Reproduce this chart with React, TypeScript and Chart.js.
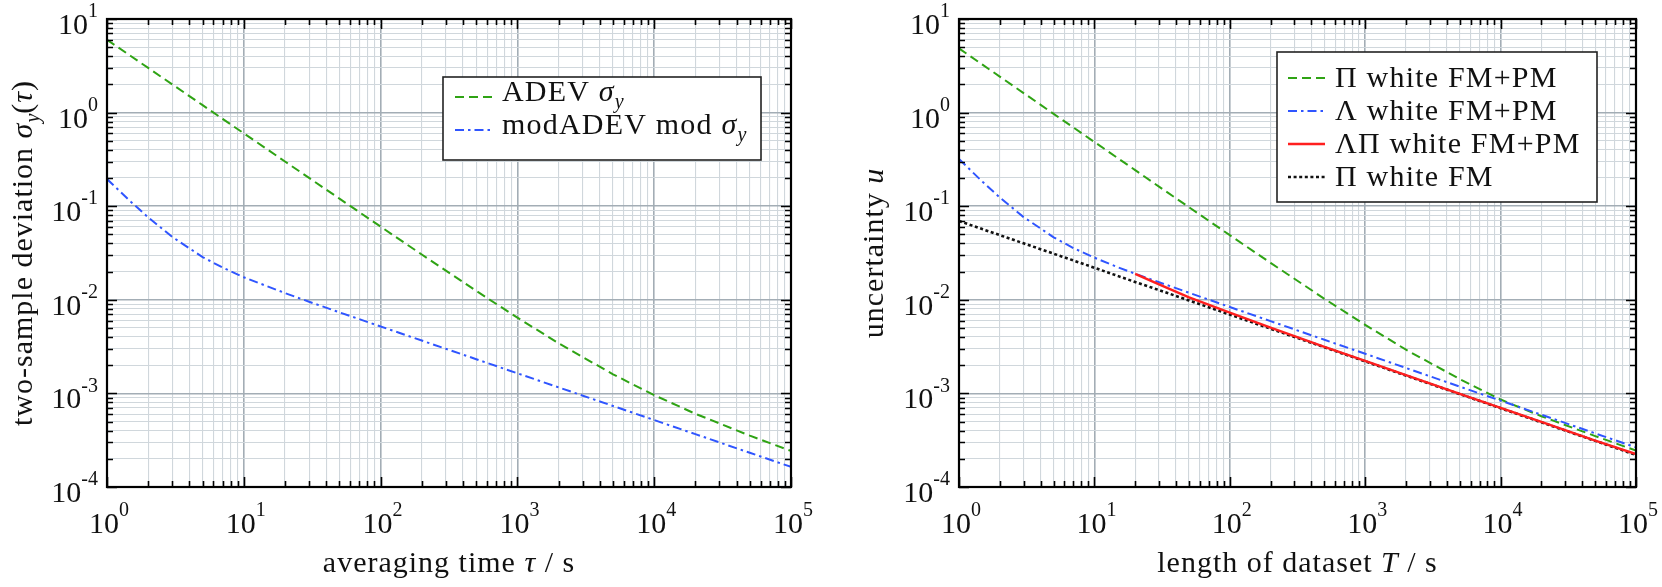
import React, { useEffect, useRef } from "react";
import { Chart, registerables } from "chart.js";

Chart.register(...registerables);

// ---------------- data ----------------
// left panel: averaging time tau / s
const tau = [1, 1.5, 2, 3, 5, 7, 10, 20, 30, 50, 100, 200, 500, 1000, 2000, 5000, 10000, 20000, 50000, 100000];
const adev = [6.0, 4.0, 3.0, 2.0, 1.2, 0.858, 0.6005, 0.3005, 0.2005, 0.1205, 0.0605, 0.03046, 0.01245, 0.00645, 0.00343, 0.0016, 9.57e-4, 6.06e-4, 3.54e-4, 2.43e-4];
const modAdev = [0.195, 0.111, 0.0759, 0.047, 0.0286, 0.0221, 0.0174, 0.0118, 0.00954, 0.00735, 0.00519, 0.00367, 0.00232, 0.00164, 0.00116, 7.34e-4, 5.19e-4, 3.67e-4, 2.32e-4, 1.64e-4];

// right panel: length of dataset T / s
const lengthT = [1, 1.5, 2, 3, 5, 7, 10, 15, 20, 30, 50, 100, 200, 500, 1000, 2000, 5000, 10000, 20000, 50000, 100000];
const piWhiteFmPm = [4.85, 3.233, 2.425, 1.617, 0.97, 0.693, 0.4855, 0.3235, 0.243, 0.1618, 0.0975, 0.049, 0.0248, 0.01025, 0.0054, 0.00293, 0.00142, 8.6e-4, 5.7e-4, 3.5e-4, 2.45e-4];
const lambdaWhiteFmPm = [0.319, 0.181, 0.124, 0.0765, 0.0465, 0.0357, 0.0282, 0.0222, 0.019, 0.0154, 0.0119, 0.00837, 0.00592, 0.00374, 0.00265, 0.00187, 0.00118, 8.37e-4, 5.92e-4, 3.74e-4, 2.65e-4];
const lambdaPiWhiteFmPm = [null, null, null, null, null, null, null, null, 0.0189, 0.0146, 0.0106, 0.0073, 0.00505, 0.00315, 0.00222, 0.00157, 9.9e-4, 7.0e-4, 4.95e-4, 3.13e-4, 2.25e-4];
const piWhiteFm = [0.0695, 0.0567, 0.0491, 0.0401, 0.0311, 0.0263, 0.022, 0.0179, 0.0155, 0.0127, 0.00983, 0.00695, 0.00491, 0.00311, 0.0022, 0.00155, 9.83e-4, 6.95e-4, 4.91e-4, 3.11e-4, 2.2e-4];

// axis decades (tick labels are 10^exponent)
const xDecades = [0, 1, 2, 3, 4, 5];
const yDecades = [-4, -3, -2, -1, 0, 1];

// ---------------- styling ----------------
const FAMILY = '"Liberation Serif"';
const GREEN = "#2fa314";
const BLUE = "#2f55ff";
const RED = "#ff1f1f";
const BLACK = "#111111";
const GRID_MAJOR = "#a3adb5";
const GRID_MINOR = "#d0d7dc";

type Seg = { t: string; it?: boolean; sub?: boolean; sup?: boolean };

function gridValues(decades: number[]): number[] {
  const out: number[] = [];
  for (let i = 0; i < decades.length - 1; i++) {
    const base = Math.pow(10, decades[i]);
    for (let m = 1; m <= 9; m++) out.push(m * base);
  }
  out.push(Math.pow(10, decades[decades.length - 1]));
  return out;
}
function isDecade(v: number): boolean {
  const l = Math.log10(v);
  return Math.abs(l - Math.round(l)) < 1e-9;
}
function segFont(s: Seg, size: number) {
  const sz = Math.round(s.sub || s.sup ? size * 0.68 : size);
  return `${s.it ? "italic " : ""}${sz}px ${FAMILY}`;
}
function setSpacing(ctx: any, sp: number) {
  if ("letterSpacing" in ctx) ctx.letterSpacing = `${sp}px`;
}
function richWidth(ctx: CanvasRenderingContext2D, segs: Seg[], size: number, sp = 0) {
  let w = 0;
  for (const s of segs) {
    ctx.font = segFont(s, size);
    setSpacing(ctx, s.sub || s.sup ? 0 : sp);
    w += ctx.measureText(s.t).width;
  }
  setSpacing(ctx, 0);
  return w;
}
function drawRich(ctx: CanvasRenderingContext2D, segs: Seg[], x: number, y: number, size: number, sp = 0) {
  let cx = x;
  ctx.textAlign = "left";
  ctx.textBaseline = "alphabetic";
  for (const s of segs) {
    ctx.font = segFont(s, size);
    setSpacing(ctx, s.sub || s.sup ? 0 : sp);
    const dy = s.sub ? size * 0.24 : s.sup ? -size * 0.56 : 0;
    ctx.fillText(s.t, cx, y + dy);
    cx += ctx.measureText(s.t).width;
  }
  setSpacing(ctx, 0);
}
function powLabel(e: number): Seg[] {
  return [{ t: "10" }, { t: String(e), sup: true }];
}

type LegendItem = { segs: Seg[]; color: string; dash: number[]; width: number };
type PanelSpec = {
  xTitle: Seg[];
  yTitle: Seg[];
  yTitleBaselineX: number; // canvas coords
  legend: { x: number; y: number; w: number; h: number; lx0: number; lx1: number; tx: number; baselines: number[]; lineOffset: number; items: LegendItem[] };
};

const TICK_SIZE = 30;
const TITLE_SIZE = 30;
const LEGEND_SIZE = 30;

function decorPlugin(spec: PanelSpec) {
  return {
    id: "decor",
    afterDraw(chart: any) {
      const ctx: CanvasRenderingContext2D = chart.ctx;
      const { left, right, top, bottom } = chart.chartArea;
      const xs = chart.scales.x;
      const ys = chart.scales.y;
      ctx.save();
      // inward ticks on all four sides
      ctx.strokeStyle = "#000";
      ctx.lineWidth = 1.6;
      ctx.beginPath();
      for (const v of gridValues(xDecades)) {
        const p = Math.round(xs.getPixelForValue(v)) + 0.5;
        const len = isDecade(v) ? 10 : 6;
        ctx.moveTo(p, bottom);
        ctx.lineTo(p, bottom - len);
        ctx.moveTo(p, top);
        ctx.lineTo(p, top + len);
      }
      for (const v of gridValues(yDecades)) {
        const p = Math.round(ys.getPixelForValue(v)) + 0.5;
        const len = isDecade(v) ? 10 : 6;
        ctx.moveTo(left, p);
        ctx.lineTo(left + len, p);
        ctx.moveTo(right, p);
        ctx.lineTo(right - len, p);
      }
      ctx.stroke();
      // frame
      ctx.lineWidth = 2.2;
      ctx.strokeRect(left, top, right - left, bottom - top);

      // tick labels
      ctx.fillStyle = "#111";
      for (const e of xDecades) {
        const segs = powLabel(e);
        const w = richWidth(ctx, segs, TICK_SIZE);
        const p = xs.getPixelForValue(Math.pow(10, e));
        drawRich(ctx, segs, p - w / 2 + 2, bottom + 46, TICK_SIZE);
      }
      for (const e of yDecades) {
        const segs = powLabel(e);
        const w = richWidth(ctx, segs, TICK_SIZE);
        const p = ys.getPixelForValue(Math.pow(10, e));
        drawRich(ctx, segs, left - 9 - w, p + 15, TICK_SIZE);
      }

      // axis titles
      const xw = richWidth(ctx, spec.xTitle, TITLE_SIZE, 1);
      drawRich(ctx, spec.xTitle, (left + right) / 2 - xw / 2, bottom + 85, TITLE_SIZE, 1);
      const yw = richWidth(ctx, spec.yTitle, TITLE_SIZE, 1);
      ctx.save();
      ctx.translate(spec.yTitleBaselineX, (top + bottom) / 2);
      ctx.rotate(-Math.PI / 2);
      drawRich(ctx, spec.yTitle, -yw / 2, 0, TITLE_SIZE, 1);
      ctx.restore();

      // legend
      const L = spec.legend;
      ctx.fillStyle = "#fff";
      ctx.fillRect(L.x, L.y, L.w, L.h);
      ctx.strokeStyle = "#222";
      ctx.lineWidth = 1.6;
      ctx.strokeRect(L.x, L.y, L.w, L.h);
      L.items.forEach((it, i) => {
        const b = L.baselines[i];
        const ly = b - L.lineOffset;
        ctx.save();
        ctx.strokeStyle = it.color;
        ctx.lineWidth = it.width;
        ctx.setLineDash(it.dash);
        ctx.beginPath();
        ctx.moveTo(L.lx0, ly);
        ctx.lineTo(L.lx1, ly);
        ctx.stroke();
        ctx.restore();
        ctx.fillStyle = "#111";
        drawRich(ctx, it.segs, L.tx, b, LEGEND_SIZE, 1.2);
      });
      ctx.restore();
    },
  };
}

const DASH = [9, 5];
const DASHDOT = [9, 4, 2.5, 4];
const DOTTED = [3, 2.6];

function pts(xs: number[], ys: (number | null)[]) {
  const out: { x: number; y: number }[] = [];
  xs.forEach((x, i) => {
    const y = ys[i];
    if (y != null) out.push({ x, y });
  });
  return out;
}

function logAxis(decades: number[], isX: boolean) {
  const vals = gridValues(decades);
  return {
    type: "logarithmic" as const,
    min: Math.pow(10, decades[0]),
    max: Math.pow(10, decades[decades.length - 1]),
    afterBuildTicks: (scale: any) => {
      scale.ticks = vals.map((v) => ({ value: v, major: isDecade(v) }));
    },
    afterFit: (scale: any) => {
      if (isX) scale.height = 0;
      else scale.width = 0;
    },
    ticks: { display: false },
    title: { display: false },
    border: { display: false },
    grid: {
      drawTicks: false,
      color: (c: any) => (c.tick && isDecade(c.tick.value) ? GRID_MAJOR : GRID_MINOR),
      lineWidth: (c: any) => (c.tick && isDecade(c.tick.value) ? 1.6 : 1.1),
    },
  };
}

function lineDs(label: string, data: any[], color: string, dash: number[], width: number, order: number) {
  return {
    label,
    data,
    borderColor: color,
    backgroundColor: color,
    borderDash: dash,
    borderWidth: width,
    borderCapStyle: "butt" as const,
    pointRadius: 0,
    tension: 0,
    fill: false,
    order,
  };
}

function Panel(props: { left: number; padding: { left: number; right: number; top: number; bottom: number }; datasets: any[]; spec: PanelSpec }) {
  const ref = useRef<HTMLCanvasElement | null>(null);
  useEffect(() => {
    if (!ref.current) return;
    const chart = new Chart(ref.current, {
      type: "line",
      data: { datasets: props.datasets },
      options: {
        animation: false,
        responsive: true,
        maintainAspectRatio: false,
        layout: { padding: props.padding },
        plugins: { legend: { display: false }, tooltip: { enabled: false } },
        scales: { x: logAxis(xDecades, true), y: logAxis(yDecades, false) },
      } as any,
      plugins: [decorPlugin(props.spec)],
    });
    return () => chart.destroy();
  }, []);
  return (
    <div style={{ position: "absolute", left: props.left, top: 0, width: 831, height: 587 }}>
      <canvas ref={ref} />
    </div>
  );
}

export default function App() {
  const leftDatasets = [
    lineDs("ADEV", pts(tau, adev), GREEN, DASH, 2, 2),
    lineDs("modADEV", pts(tau, modAdev), BLUE, DASHDOT, 2, 1),
  ];
  const rightDatasets = [
    lineDs("Π white FM+PM", pts(lengthT, piWhiteFmPm), GREEN, DASH, 2, 3),
    lineDs("Λ white FM+PM", pts(lengthT, lambdaWhiteFmPm), BLUE, DASHDOT, 2, 2),
    lineDs("ΛΠ white FM+PM", pts(lengthT, lambdaPiWhiteFmPm), RED, [], 2.4, 1),
    lineDs("Π white FM", pts(lengthT, piWhiteFm), BLACK, DOTTED, 2.6, 4),
  ];
  const leftSpec: PanelSpec = {
    xTitle: [{ t: "averaging time " }, { t: "τ", it: true }, { t: " / s" }],
    yTitle: [{ t: "two-sample deviation " }, { t: "σ", it: true }, { t: "y", it: true, sub: true }, { t: "(" }, { t: "τ", it: true }, { t: ")" }],
    yTitleBaselineX: 32,
    legend: {
      x: 443, y: 77, w: 318, h: 83, lx0: 455, lx1: 492, tx: 502, baselines: [101, 134], lineOffset: 4,
      items: [
        { segs: [{ t: "ADEV " }, { t: "σ", it: true }, { t: "y", it: true, sub: true }], color: GREEN, dash: DASH, width: 2 },
        { segs: [{ t: "modADEV mod " }, { t: "σ", it: true }, { t: "y", it: true, sub: true }], color: BLUE, dash: DASHDOT, width: 2 },
      ],
    },
  };
  const rightSpec: PanelSpec = {
    xTitle: [{ t: "length of dataset " }, { t: "T", it: true }, { t: " / s" }],
    yTitle: [{ t: "uncertainty " }, { t: "u", it: true }],
    yTitleBaselineX: 883 - 831,
    legend: {
      x: 1277 - 831, y: 52, w: 320, h: 150, lx0: 1288 - 831, lx1: 1325 - 831, tx: 1335 - 831, baselines: [87, 120, 153, 186], lineOffset: 9,
      items: [
        { segs: [{ t: "Π white FM+PM" }], color: GREEN, dash: DASH, width: 2 },
        { segs: [{ t: "Λ white FM+PM" }], color: BLUE, dash: DASHDOT, width: 2 },
        { segs: [{ t: "ΛΠ white FM+PM" }], color: RED, dash: [], width: 2.4 },
        { segs: [{ t: "Π white FM" }], color: BLACK, dash: DOTTED, width: 2.6 },
      ],
    },
  };
  return (
    <div style={{ position: "absolute", left: 0, top: 0, width: 1662, height: 587, background: "#fff" }}>
      <Panel left={0} padding={{ left: 107, right: 40, top: 19, bottom: 100 }} datasets={leftDatasets} spec={leftSpec} />
      <Panel left={831} padding={{ left: 128, right: 26, top: 19, bottom: 100 }} datasets={rightDatasets} spec={rightSpec} />
    </div>
  );
}
